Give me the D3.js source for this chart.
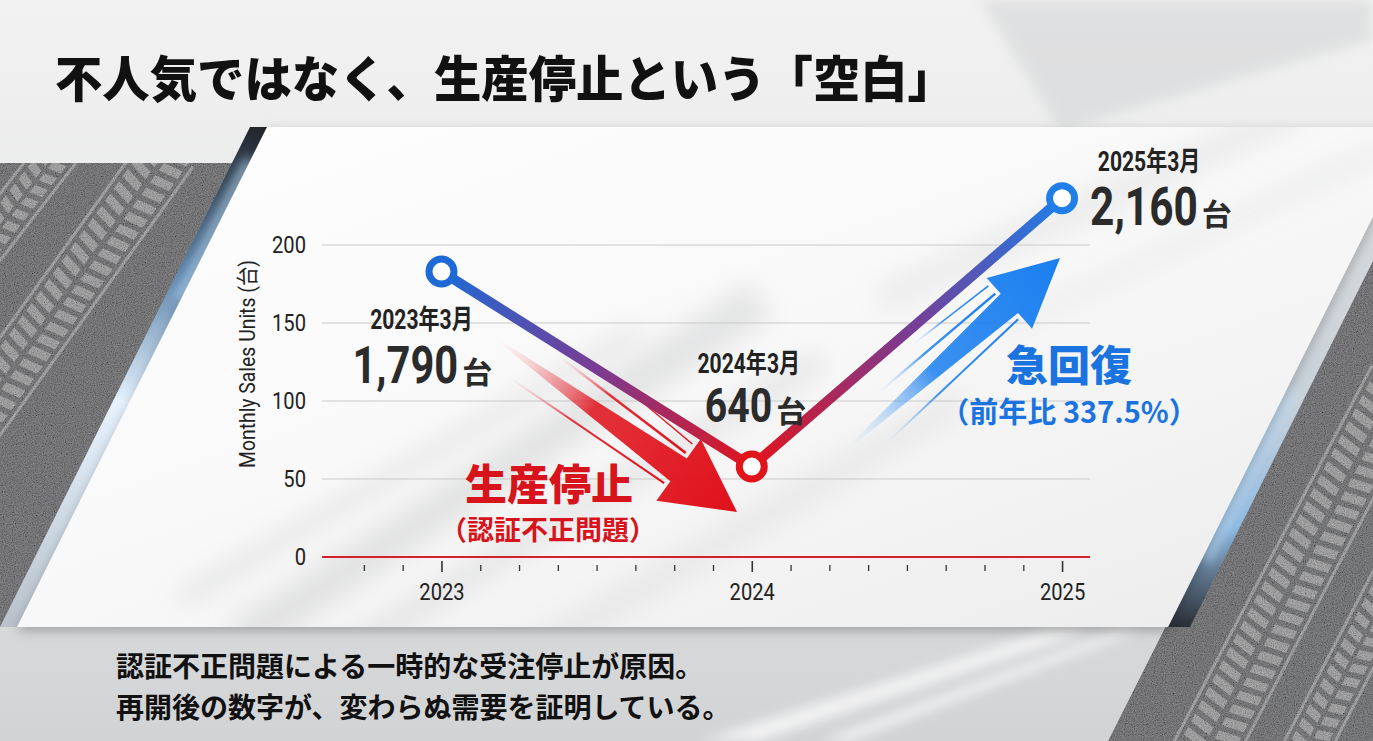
<!DOCTYPE html>
<html><head><meta charset="utf-8">
<script src="https://cdn.jsdelivr.net/npm/d3@7"></script>
<style>
html,body{margin:0;padding:0;background:#e6e6e6;overflow:hidden;}
svg{display:block;}
</style></head><body>
<svg id="chart" width="1373" height="741"></svg>
<script>
// ---------- data ----------
const title = "不人気ではなく、生産停止という「空白」";
const years = [2023, 2024, 2025];
const sales = [183, 58, 230];
const pointColors = ["#1d6ad6", "#e1141c", "#1f7ee8"];
const periodLabels = ["2023年3月", "2024年3月", "2025年3月"];
const unitValues = ["1,790", "640", "2,160"];
const unitSuffix = "台";
const yTicks = [0, 50, 100, 150, 200];
const xTicks = [2023, 2024, 2025];
const yLabel = "Monthly Sales Units (台)";
const dropLabel = ["生産停止", "（認証不正問題）"];
const riseLabel = ["急回復", "（前年比 337.5%）"];
const footnote = ["認証不正問題による一時的な受注停止が原因。", "再開後の数字が、変わらぬ需要を証明している。"];

const W = 1373, H = 741;
const CJK = "'Noto Sans CJK JP', 'Noto Sans CJK SC', sans-serif";
const NUM = "Roboto, 'Noto Sans CJK JP', sans-serif";
const PURPLE = "#7a3b93";
const SQ = 0.8;

const svg = d3.select("#chart");
const defs = svg.append("defs");

function linGrad(id, x1, y1, x2, y2, stops, units) {
  const g = defs.append("linearGradient").attr("id", id)
    .attr("x1", x1).attr("y1", y1).attr("x2", x2).attr("y2", y2);
  if (units) g.attr("gradientUnits", units);
  stops.forEach(s => g.append("stop").attr("offset", s[0]).attr("stop-color", s[1]).attr("stop-opacity", s[2] == null ? 1 : s[2]));
  return g;
}

linGrad("bgGrad", 0, 0, 0, 1, [[0, "#f2f2f2"], [0.5, "#e4e5e6"], [1, "#d2d3d5"]]);
linGrad("panelGrad", 0, 0, 1, 1, [[0, "#ffffff"], [0.55, "#f7f7f7"], [1, "#ebebeb"]]);
linGrad("leftEdge", 0, 0, 0, 1, [[0, "#22262c"], [0.3, "#5f86ad"], [0.55, "#e6f3ff"], [1, "#b9c2cb"]]);
linGrad("rightEdge", 0, 0, 0, 1, [[0, "#dcdcdc"], [0.55, "#c9d2da"], [0.8, "#8fb8e0"], [1, "#2a2e35"]]);

const fN = defs.append("filter").attr("id", "noise").attr("filterUnits", "userSpaceOnUse")
  .attr("x", 0).attr("y", 0).attr("width", W).attr("height", H);
fN.append("feTurbulence").attr("type", "fractalNoise").attr("baseFrequency", 0.9).attr("numOctaves", 3).attr("seed", 5).attr("result", "n");
fN.append("feColorMatrix").attr("in", "n").attr("type", "matrix")
  .attr("values", "1.1 0 0 0 -0.15  1.1 0 0 0 -0.15  1.1 0 0 0 -0.15  0 0 0 0 0.5").attr("result", "g");
fN.append("feComposite").attr("in", "g").attr("in2", "SourceGraphic").attr("operator", "in");

const blur = (id, sd) => defs.append("filter").attr("id", id).attr("x", "-50%").attr("y", "-50%").attr("width", "200%").attr("height", "200%")
  .append("feGaussianBlur").attr("stdDeviation", sd);
blur("blur6", 6); blur("blur12", 12);

const shadowF = defs.append("filter").attr("id", "panelShadow").attr("x", "-10%").attr("y", "-10%").attr("width", "120%").attr("height", "130%");
shadowF.append("feDropShadow").attr("dx", 0).attr("dy", 4).attr("stdDeviation", 6).attr("flood-color", "#000").attr("flood-opacity", 0.25);

// ---------- background ----------
const bgG = svg.append("g");
bgG.append("rect").attr("width", W).attr("height", H).attr("fill", "url(#bgGrad)");

[[[980, 0], [1373, 0], [1373, 40], [1060, 130]], [[700, 741], [760, 741], [1090, 630], [1050, 630]], [[820, 741], [850, 741], [1140, 630], [1120, 630]]]
  .forEach((p, i) => bgG.append("polygon").attr("points", p.join(" "))
    .attr("fill", i === 0 ? "#cfd0d2" : "#ffffff").attr("opacity", i === 0 ? 0.5 : 0.7).attr("filter", "url(#blur6)"));

const asphaltLeft = [[0, 163], [250, 163], [17, 627], [0, 627]];
const asphaltRight = [[1373, 214], [1373, 741], [1108, 741]];

function drawTrack(g, x0, y0, x1, y1, w) {
  const ang = Math.atan2(y1 - y0, x1 - x0) * 180 / Math.PI;
  const len = Math.hypot(x1 - x0, y1 - y0);
  const t = g.append("g").attr("transform", `translate(${x0},${y0}) rotate(${ang})`).attr("fill", "#d4d4d4").attr("opacity", 0.5);
  d3.range(0, len, 15).forEach(d => {
    t.append("polygon").attr("points", [[d, -w / 2], [d + 9, -w / 2], [d + 5, -w * 0.06], [d - 4, -w * 0.06]].join(" "));
    t.append("polygon").attr("points", [[d - 4, w * 0.06], [d + 5, w * 0.06], [d + 9, w / 2], [d, w / 2]].join(" "));
  });
  t.append("rect").attr("x", 0).attr("y", -w / 2 - 7).attr("width", len).attr("height", 3);
  t.append("rect").attr("x", 0).attr("y", w / 2 + 4).attr("width", len).attr("height", 3);
}
function asphalt(pts, id, tracks) {
  defs.append("clipPath").attr("id", id).append("polygon").attr("points", pts.join(" "));
  const g = bgG.append("g").attr("clip-path", `url(#${id})`);
  g.append("polygon").attr("points", pts.join(" ")).attr("fill", "#58595c");
  tracks.forEach(t => drawTrack(g, ...t));
  g.append("polygon").attr("points", pts.join(" ")).attr("fill", "#000").attr("filter", "url(#noise)").attr("opacity", 0.7);
}
asphalt(asphaltLeft, "clipL", [[-60, 470, 170, 150, 46], [-80, 330, 60, 150, 30]]);
asphalt(asphaltRight, "clipR", [[1200, 760, 1400, 380, 52], [1300, 760, 1420, 530, 34]]);

bgG.append("polygon").attr("points", [[250, 127], [268, 127], [18, 627], [0, 627]].join(" ")).attr("fill", "url(#leftEdge)");
bgG.append("polygon").attr("points", [[1418, 127], [1440, 127], [1190, 627], [1168, 627]].join(" ")).attr("fill", "url(#rightEdge)");
bgG.append("line").attr("x1", 250).attr("y1", 160).attr("x2", 180).attr("y2", 300).attr("stroke", "#bfe1ff").attr("stroke-width", 8).attr("filter", "url(#blur6)");
bgG.append("line").attr("x1", 1290).attr("y1", 390).attr("x2", 1205).attr("y2", 560).attr("stroke", "#bfe1ff").attr("stroke-width", 8).attr("filter", "url(#blur6)");

const panelPts = [[267, 127], [1418, 127], [1168, 627], [17, 627]];
defs.append("clipPath").attr("id", "clipP").append("polygon").attr("points", panelPts.join(" "));
bgG.append("polygon").attr("points", panelPts.join(" ")).attr("fill", "url(#panelGrad)").attr("filter", "url(#panelShadow)");
const streakG = bgG.append("g").attr("clip-path", "url(#clipP)");
[[[240, 640], [760, 300], 40, 0.22], [[300, 680], [820, 360], 24, 0.18], [[180, 600], [640, 330], 16, 0.2],
 [[520, 660], [960, 400], 30, 0.12], [[880, 300], [1300, 110], 30, 0.12], [[1000, 330], [1380, 150], 18, 0.1]]
  .forEach(s => streakG.append("line").attr("x1", s[0][0]).attr("y1", s[0][1]).attr("x2", s[1][0]).attr("y2", s[1][1])
    .attr("stroke", "#9a9ca0").attr("stroke-width", s[2]).attr("opacity", s[3]).attr("filter", "url(#blur12)"));

// ---------- title & footnote ----------
svg.append("text").attr("x", 55).attr("y", 97).attr("font-family", CJK).attr("font-weight", 900)
  .attr("font-size", 49).attr("fill", "#111").attr("textLength", 900).attr("lengthAdjust", "spacingAndGlyphs").text(title);
footnote.forEach((l, i) => svg.append("text").attr("x", 116).attr("y", 677 + i * 41)
  .attr("font-family", CJK).attr("font-weight", 700).attr("font-size", 28).attr("fill", "#111").text(l));

// ---------- chart ----------
const x = d3.scaleLinear().domain([2022.615, 2025.09]).range([322, 1090]);
const y = d3.scaleLinear().domain([0, 200]).range([557, 245]);
const chart = svg.append("g");

chart.append("g").selectAll("line").data(yTicks.filter(d => d > 0)).join("line")
  .attr("x1", x.range()[0]).attr("x2", x.range()[1]).attr("y1", d => y(d)).attr("y2", d => y(d))
  .attr("stroke", "#c9c9c9").attr("stroke-width", 1.2);
chart.append("line").attr("x1", x.range()[0]).attr("x2", x.range()[1]).attr("y1", y(0)).attr("y2", y(0))
  .attr("stroke", "#d2232a").attr("stroke-width", 2);

const yg = chart.append("g").attr("transform", "translate(306,0)").call(d3.axisLeft(y).tickValues(yTicks).tickSize(0).tickPadding(0));
yg.select(".domain").remove();
yg.selectAll("text").attr("font-family", NUM).attr("font-size", 24).attr("fill", "#222").attr("transform", `scale(${SQ + 0.04},1)`);

chart.append("text").attr("transform", "translate(255,364) rotate(-90)").attr("text-anchor", "middle")
  .attr("font-family", NUM).attr("font-size", 22).attr("fill", "#222")
  .attr("textLength", 208).attr("lengthAdjust", "spacingAndGlyphs").text(yLabel);

const minorTicks = d3.range(2022.75, 2025.01, 0.125).filter(d => !Number.isInteger(d));
const xMinor = chart.append("g").attr("transform", "translate(0,565)").call(d3.axisBottom(x).tickValues(minorTicks).tickSize(6).tickFormat(""));
xMinor.select(".domain").remove();
xMinor.selectAll("line").attr("stroke", "#333").attr("stroke-width", 1.3);
const xMajor = chart.append("g").attr("transform", "translate(0,561)").call(d3.axisBottom(x).tickValues(xTicks).tickSize(11).tickPadding(11).tickFormat(d3.format("d")));
xMajor.select(".domain").remove();
xMajor.selectAll("line").attr("stroke", "#333").attr("stroke-width", 1.6);
xMajor.selectAll("text").attr("font-family", NUM).attr("font-size", 24).attr("fill", "#222").attr("transform", `scale(${SQ + 0.04},1)`);

// arrows (decorative annotations)
function arrow(id, x0, y0, x1, y1, hl, hw, sw, c0, c1) {
  linGrad(id, 0, 0, 1, 0, [[0, c0, 0], [0.4, c1, 0.85], [1, c1, 1]]);
  const ang = Math.atan2(y1 - y0, x1 - x0) * 180 / Math.PI;
  const L = Math.hypot(x1 - x0, y1 - y0);
  const g = chart.append("g").attr("transform", `translate(${x0},${y0}) rotate(${ang})`);
  const p = d3.path();
  p.moveTo(0, -1); p.lineTo(L - hl, -sw); p.lineTo(L - hl, -hw); p.lineTo(L, 0);
  p.lineTo(L - hl, hw); p.lineTo(L - hl, sw); p.lineTo(0, 1); p.closePath();
  g.append("path").attr("d", p.toString()).attr("fill", `url(#${id})`);
  [[-sw * 1.6, 0.55, 2.5], [sw * 1.7, 0.65, 2], [-sw * 2.6, 0.35, 1.5]].forEach(s => {
    g.append("path").attr("d", `M${L * (1 - s[1]) - hl},${s[0]} L${L - hl - 4},${s[0] * 0.8}`)
      .attr("stroke", `url(#${id})`).attr("stroke-width", s[2]).attr("fill", "none");
  });
}
arrow("redArrow", 498, 340, 737, 512, 72, 38, 14, "#f7a3a6", "#e0101a");
arrow("blueArrow", 848, 448, 1060, 258, 68, 34, 13, "#a9cff7", "#1a7ff0");

// line segments with gradient
d3.pairs(years.map((yr, i) => ({ yr, v: sales[i], c: pointColors[i] }))).forEach((pr, i) => {
  const [a, b] = pr;
  linGrad("seg" + i, x(a.yr), y(a.v), x(b.yr), y(b.v), [[0, a.c], [0.5, PURPLE], [1, b.c]], "userSpaceOnUse");
  chart.append("path").attr("d", d3.line().x(d => x(d.yr)).y(d => y(d.v))(pr))
    .attr("stroke", `url(#seg${i})`).attr("stroke-width", 10).attr("fill", "none").attr("stroke-linecap", "round");
});

chart.append("g").selectAll("circle").data(years).join("circle")
  .attr("cx", d => x(d)).attr("cy", (d, i) => y(sales[i])).attr("r", 12.5)
  .attr("fill", "#fff").attr("stroke", (d, i) => pointColors[i]).attr("stroke-width", 7);

// value labels
const labelPos = [
  { px: -20, py: 57, vx: -89, vy: 111, fs: 52 },
  { px: -3, py: -94, vx: -47, vy: -45, fs: 49 },
  { px: 87, py: -27, vx: 28, vy: 27, fs: 53 }
];
years.forEach((yr, i) => {
  const cx = x(yr), cy = y(sales[i]), o = labelPos[i];
  chart.append("g").attr("transform", `translate(${cx + o.px},${cy + o.py}) scale(0.78,1)`)
    .append("text").attr("text-anchor", "middle").attr("font-family", NUM).attr("font-weight", 700)
    .attr("font-size", 27).attr("fill", "#222").text(periodLabels[i]);
  const g = chart.append("g").attr("transform", `translate(${cx + o.vx},${cy + o.vy})`);
  const num = g.append("text").attr("transform", `scale(${SQ},1)`).attr("font-family", NUM).attr("font-weight", 700)
    .attr("font-size", o.fs).attr("fill", "#2b2b2b").text(unitValues[i]);
  const w = num.node().getComputedTextLength() * SQ;
  g.append("text").attr("x", w + 4).attr("font-family", CJK).attr("font-weight", 700).attr("font-size", 30)
    .attr("fill", "#2b2b2b").text(unitSuffix);
});

// annotation texts
chart.append("text").attr("x", 549).attr("y", 500).attr("text-anchor", "middle").attr("font-family", CJK)
  .attr("font-weight", 900).attr("font-size", 42).attr("fill", "#d7131b").text(dropLabel[0]);
chart.append("text").attr("x", 548).attr("y", 540).attr("text-anchor", "middle").attr("font-family", CJK)
  .attr("font-weight", 700).attr("font-size", 27).attr("fill", "#d7131b").text(dropLabel[1]);
chart.append("text").attr("x", 1069).attr("y", 381).attr("text-anchor", "middle").attr("font-family", CJK)
  .attr("font-weight", 900).attr("font-size", 42).attr("fill", "#1a73df").text(riseLabel[0]);
chart.append("text").attr("x", 1069).attr("y", 423).attr("text-anchor", "middle").attr("font-family", CJK)
  .attr("font-weight", 700).attr("font-size", 29).attr("fill", "#1a73df").text(riseLabel[1]);
</script>
</body></html>
